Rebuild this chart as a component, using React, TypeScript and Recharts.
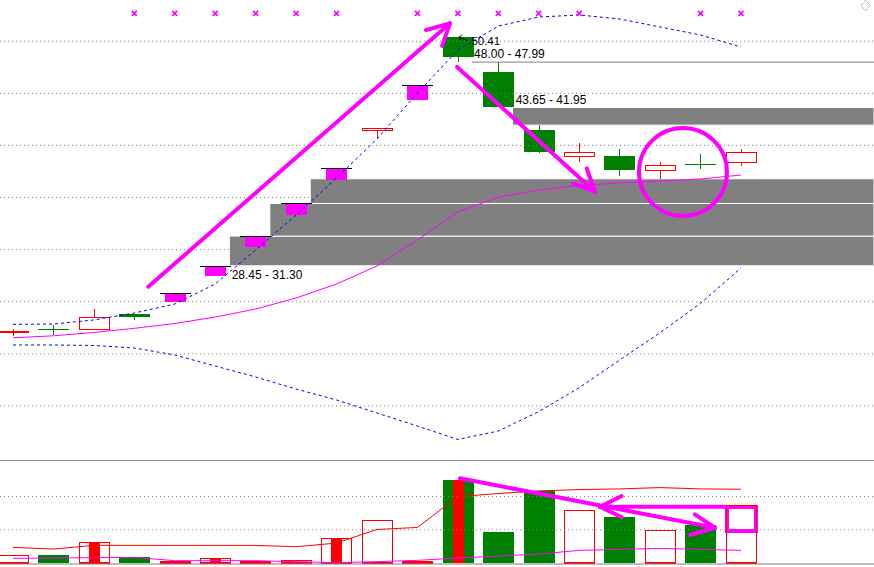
import React from "react";
import {
  ComposedChart,
  Bar,
  Line,
  Scatter,
  XAxis,
  YAxis,
  ReferenceLine,
  ReferenceArea,
  ReferenceDot,
} from "recharts";

const RED = "#ff0000";
const GREEN = "#008000";
const MAGENTA = "#ff00ff";
const BLUE = "#0000ff";
const GRAY = "#808080";
const FONT = '"Liberation Sans", Arial, sans-serif';

// ---- daily candles (19 sessions) ----
const opens = [22.03, 22.3, 22.32, 23.82, 25.84, 28.45, 31.3, 34.43, 37.87, 41.45, 45.83, 50.41, 47.05, 41.48, 38.96, 38.99, 37.61, 38.2, 38.34];
const closes = [22.19, 22.29, 23.53, 23.56, 25.84, 28.45, 31.3, 34.43, 37.87, 41.66, 45.83, 48.52, 43.65, 39.4, 39.34, 37.67, 38.03, 38.19, 39.34];
const highs = [22.38, 22.77, 24.33, 23.82, 25.84, 28.45, 31.3, 34.43, 37.87, 41.66, 45.83, 50.41, 48.0, 41.95, 40.24, 39.66, 38.41, 39.18, 39.69];
const lows = [21.75, 21.81, 22.29, 23.28, 25.84, 28.45, 31.3, 34.43, 37.87, 40.62, 45.83, 47.99, 43.65, 39.3, 38.44, 37.1, 36.8, 37.71, 38.06];
// limit-up marker box under one-price candles
const limitBox = [null, null, null, null, 25.0, 27.5, 30.28, 33.35, 36.68, null, 44.39, null, null, null, null, null, null, null, null];

// ---- bollinger style bands ----
const bollUp = [22.83, 22.86, 23.25, 23.92, 24.78, 26.7, 29.97, 33.32, 36.88, 40.62, 45.03, 49.16, 51.46, 52.33, 52.52, 52.14, 51.37, 50.6, 49.45];
const bollMid = [21.54, 21.73, 22.05, 22.45, 22.91, 23.53, 24.3, 25.36, 26.7, 28.43, 30.93, 33.61, 35.05, 35.72, 36.16, 36.4, 36.59, 36.78, 37.16];
const bollDn = [20.85, 20.85, 20.8, 20.56, 19.89, 18.83, 17.78, 16.62, 15.57, 14.32, 13.07, 11.78, 12.59, 14.45, 16.75, 19.41, 22.03, 24.85, 28.24];

// ---- volume panel ----
const vols = [0.24, 0.24, 0.62, 0.17, 0.05, 0.15, 0.05, 0.09, 0.74, 1.29, 0.07, 2.5, 0.93, 2.17, 1.59, 1.38, 0.98, 1.14, 1.75];
const volInner = [0, 0, 0.62, 0, 0, 0.12, 0, 0, 0.74, 0, 0, 2.5, 0, 0, 0, 0, 0, 0, 0];
const volMa1 = [0.47, 0.42, 0.53, 0.53, 0.53, 0.53, 0.53, 0.49, 0.6, 1.01, 1.07, 2.0, 2.09, 2.17, 2.21, 2.23, 2.27, 2.23, 2.22];
const volMa2 = [0.14, 0.15, 0.16, 0.17, 0.07, 0.07, 0.07, 0.04, 0.01, 0.04, 0.08, 0.15, 0.21, 0.27, 0.38, 0.41, 0.44, 0.41, 0.38];

// ---- markers, gaps, labels ----
const markIdx = [3, 4, 5, 6, 7, 8, 10, 11, 12, 13, 14, 17, 18];
const MARK_LEVEL = 52.68;
const gapFrom = [6, 7, 8, 13];
const gapLo = [28.45, 31.3, 34.43, 41.95];
const gapHi = [31.3, 34.43, 36.8, 43.65];

const X_MIN = -0.3214;
const X_MAX = 21.289;
const P_MIN = 9.81;
const P_MAX = 53.96;
const V_MIN = -0.06;
const V_MAX = 3.1;
const priceTicks = [15, 20, 25, 30, 35, 40, 45, 50];
const volTicks = [1, 2];

// hand drawn annotations (data units)
const mainArrows = [
  [[3.345, 26.44], [10.805, 51.72]],
  [[10.805, 51.72], [10.21, 51.08]],
  [[10.805, 51.72], [10.61, 49.55]],
  [[10.98, 47.53], [14.39, 35.56]],
  [[14.39, 35.56], [14.185, 37.81]],
  [[14.39, 35.56], [13.85, 36.37]],
];
const volArrows = [
  [[11.05, 2.549], [17.357, 1.062]],
  [[17.357, 1.062], [16.86, 1.466]],
  [[17.357, 1.062], [16.74, 0.843]],
  [[17.605, 1.694], [14.514, 1.694]],
  [[14.514, 1.694], [15.05, 2.016]],
  [[14.514, 1.694], [15.05, 1.375]],
];

const rows = opens.map((o, i) => ({
  i,
  open: o,
  close: closes[i],
  high: highs[i],
  low: lows[i],
  box: limitBox[i],
  lo: Math.min(lows[i], limitBox[i] ?? lows[i]),
  hi: highs[i],
  bollUp: bollUp[i],
  bollMid: bollMid[i],
  bollDn: bollDn[i],
  vol: vols[i],
  inner: volInner[i],
  ma1: volMa1[i],
  ma2: volMa2[i],
  red: closes[i] > opens[i] || highs[i] === lows[i],
}));

const markerRows = markIdx.map((i) => ({ i, m: MARK_LEVEL }));

function Candle(props: any) {
  const { x, y, width, height, payload: d } = props;
  if (!Number.isFinite(height)) return null;
  const k = height / (d.hi - d.lo);
  const py = (p: number) => y + (d.hi - p) * k;
  const cx = Math.floor(x + width / 2) + 0.5;

  if (d.high === d.low) {
    const top = py(d.close);
    return (
      <g shapeRendering="crispEdges">
        {d.box != null && (
          <rect x={x + 5} y={top} width={width - 10} height={py(d.box) - top} fill={MAGENTA} />
        )}
        <line x1={x} x2={x + width} y1={top + 0.5} y2={top + 0.5} stroke="#000" />
      </g>
    );
  }

  const up = d.close > d.open;
  const color = up ? RED : GREEN;
  const bt = py(Math.max(d.open, d.close));
  const bb = py(Math.min(d.open, d.close));
  const hy = py(d.high);
  const ly = py(d.low);

  if (bb - bt < 1) {
    return (
      <g shapeRendering="crispEdges">
        <line x1={cx} x2={cx} y1={hy} y2={ly} stroke={color} />
        <line x1={x} x2={x + width} y1={bt} y2={bt} stroke={color} />
      </g>
    );
  }
  if (up) {
    return (
      <g shapeRendering="crispEdges">
        <line x1={cx} x2={cx} y1={hy} y2={bt} stroke={color} />
        <line x1={cx} x2={cx} y1={bb} y2={ly} stroke={color} />
        <rect x={x + 0.5} y={bt} width={width - 1} height={bb - bt} fill="none" stroke={color} />
      </g>
    );
  }
  return (
    <g shapeRendering="crispEdges">
      <line x1={cx} x2={cx} y1={hy} y2={ly} stroke={color} />
      <rect x={x} y={bt} width={width} height={bb - bt} fill={color} />
    </g>
  );
}

function VolBar(props: any) {
  const { x, y, width, height, payload: d } = props;
  if (!Number.isFinite(height)) return null;
  const base = y + height;
  const k = height / d.vol;
  return (
    <g shapeRendering="crispEdges">
      {d.red ? (
        <>
          <rect x={x + 0.5} y={y + 0.5} width={width - 1} height={Math.max(height - 0.5, 0)} fill="none" stroke={RED} />
          <rect x={x} y={base - 1} width={width} height={2} fill={RED} />
        </>
      ) : (
        <rect x={x} y={y} width={width} height={height} fill={GREEN} />
      )}
      {d.inner > 0 && (
        <rect x={x + (width - 11) / 2} y={base - d.inner * k} width={11} height={d.inner * k} fill={RED} />
      )}
    </g>
  );
}

function Marker(props: any) {
  const { cx, cy } = props;
  return (
    <g stroke={MAGENTA} strokeWidth={1.6}>
      <line x1={cx - 2.5} y1={cy - 2.5} x2={cx + 2.5} y2={cy + 2.5} />
      <line x1={cx - 2.5} y1={cy + 2.5} x2={cx + 2.5} y2={cy - 2.5} />
    </g>
  );
}

const textLabel = (text: string, dx: number, dy: number) => (p: any) => (
  <text x={p.cx + dx} y={p.cy + dy} fontFamily={FONT} fontSize={12} fill="#000">
    {text}
  </text>
);

function HighLabel(p: any) {
  const { cx, cy } = p;
  return (
    <g>
      <line x1={cx + 10} y1={cy + 4} x2={cx + 1} y2={cy} stroke="#000" />
      <line x1={cx + 1} y1={cy} x2={cx + 4} y2={cy - 1.5} stroke="#000" />
      <line x1={cx + 1} y1={cy} x2={cx + 2.5} y2={cy + 3} stroke="#000" />
      <text x={cx + 13.5} y={cy + 8.3} fontFamily={FONT} fontSize={11.5} fill="#000">
        50.41
      </text>
    </g>
  );
}

export default function App() {
  return (
    <div
      style={{
        position: "absolute",
        left: 0,
        top: 0,
        width: 874,
        height: 567,
        background: "#fff",
        overflow: "hidden",
        pointerEvents: "none",
      }}
    >
      <div style={{ position: "absolute", left: 0, top: 0 }}>
        <ComposedChart width={874} height={460} data={rows} margin={{ top: 0, right: 0, bottom: 0, left: 0 }}>
          <XAxis type="number" dataKey="i" domain={[X_MIN, X_MAX]} hide allowDataOverflow />
          <YAxis type="number" domain={[P_MIN, P_MAX]} hide allowDataOverflow />
          {priceTicks.map((t) => (
            <ReferenceLine key={t} y={t} stroke={GRAY} strokeDasharray="1 3" />
          ))}
          {gapFrom.map((g, k) => (
            <ReferenceArea
              key={k}
              x1={g - 0.65}
              x2={X_MAX}
              y1={gapLo[k]}
              y2={gapHi[k]}
              fill={GRAY}
              fillOpacity={1}
              stroke="#fff"
              strokeWidth={1}
            />
          ))}
          <ReferenceLine segment={[{ x: 11.35, y: 48.0 }, { x: X_MAX, y: 48.0 }]} stroke={GRAY} />
          <Line dataKey="bollUp" stroke={BLUE} strokeDasharray="3 3" dot={false} activeDot={false} isAnimationActive={false} />
          <Line dataKey="bollMid" stroke={MAGENTA} dot={false} activeDot={false} isAnimationActive={false} />
          <Line dataKey="bollDn" stroke={BLUE} strokeDasharray="3 3" dot={false} activeDot={false} isAnimationActive={false} />
          <Bar dataKey={(d: any) => [d.lo, d.hi]} barSize={31} shape={Candle} activeBar={false} isAnimationActive={false} />
          <Scatter data={markerRows} dataKey="m" shape={Marker} isAnimationActive={false} />
          <ReferenceDot x={5.35} y={28.45} r={0} shape={textLabel("28.45 - 31.30", 2.3, 13.5)} />
          <ReferenceDot x={12.35} y={43.65} r={0} shape={textLabel("43.65 - 41.95", 3.2, -3.4)} />
          <ReferenceDot x={11.35} y={48.0} r={0} shape={textLabel("48.00 - 47.99", 2, -4.2)} />
          <ReferenceDot x={11} y={50.41} r={0} shape={HighLabel} />
          {mainArrows.map((s, k) => (
            <ReferenceLine
              key={"a" + k}
              segment={[{ x: s[0][0], y: s[0][1] }, { x: s[1][0], y: s[1][1] }]}
              stroke={MAGENTA}
              strokeWidth={4}
              strokeLinecap="round"
            />
          ))}
          <ReferenceDot x={16.566} y={37.45} r={44} fill="none" stroke={MAGENTA} strokeWidth={4} />
        </ComposedChart>
      </div>
      <div style={{ position: "absolute", left: 0, top: 460 }}>
        <ComposedChart width={874} height={105} data={rows} margin={{ top: 0, right: 0, bottom: 0, left: 0 }}>
          <XAxis type="number" dataKey="i" domain={[X_MIN, X_MAX]} hide allowDataOverflow />
          <YAxis type="number" domain={[V_MIN, V_MAX]} hide allowDataOverflow />
          <ReferenceLine y={V_MAX - 0.01} stroke={GRAY} />
          <ReferenceLine y={-0.03} stroke={GRAY} />
          {volTicks.map((t) => (
            <ReferenceLine key={t} y={t} stroke={GRAY} strokeDasharray="1 3" />
          ))}
          <Bar dataKey="vol" barSize={31} shape={VolBar} activeBar={false} isAnimationActive={false} />
          <Line dataKey="ma1" stroke={RED} dot={false} activeDot={false} isAnimationActive={false} />
          <Line dataKey="ma2" stroke={MAGENTA} dot={false} activeDot={false} isAnimationActive={false} />
          <ReferenceLine segment={[{ x: 17.63, y: 1.776 }, { x: 18.37, y: 1.776 }]} stroke="#c8c800" strokeDasharray="1 2" />
          {volArrows.map((s, k) => (
            <ReferenceLine
              key={"v" + k}
              segment={[{ x: s[0][0], y: s[0][1] }, { x: s[1][0], y: s[1][1] }]}
              stroke={MAGENTA}
              strokeWidth={4}
              strokeLinecap="round"
            />
          ))}
          <ReferenceArea x1={17.654} x2={18.371} y1={0.963} y2={1.685} fill="none" fillOpacity={0} stroke={MAGENTA} strokeWidth={4} />
        </ComposedChart>
      </div>
      <svg style={{ position: "absolute", left: 860, top: 0 }} width={12} height={12}>
        <polygon points="5.5,0.5 10.5,5.5 5.5,10.5 0.5,5.5" fill="none" stroke={GRAY} strokeDasharray="1 1" />
      </svg>
    </div>
  );
}
